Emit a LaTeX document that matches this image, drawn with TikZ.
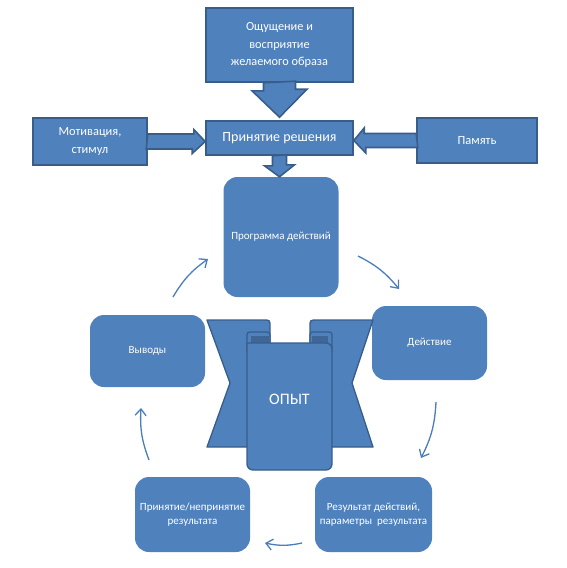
\documentclass[tikz,border=0pt]{standalone}
\usepackage{fontspec}
\setmainfont{Carlito}
\usetikzlibrary{arrows.meta,calc}

\definecolor{boxblue}{HTML}{4F81BD}
\definecolor{edgeblue}{HTML}{385D8A}
\definecolor{backblue}{HTML}{3E6797}
\definecolor{lineblue}{HTML}{4A7EBB}

\tikzset{
  blockbox/.style={draw=edgeblue, fill=boxblue, line width=1.6pt, text=white, align=center, inner sep=0pt},
  roundbox/.style={fill=boxblue, rounded corners=14pt, text=white, align=center, inner sep=0pt,
    minimum width=115pt, font=\fontsize{11}{14.5}\selectfont},
  blockarrow/.style={draw=edgeblue, fill=boxblue, line width=1.6pt, line join=miter},
  scrollpart/.style={draw=edgeblue, fill=boxblue, line width=1.3pt, line join=round},
  cyclearrow/.style={draw=lineblue, line width=1.3pt, -{Straight Barb[length=6.5pt,width=11pt]}, bend left=12}
}

\begin{document}
\begin{tikzpicture}[x=1pt, y=-1pt]
\useasboundingbox (0,0) rectangle (566,568);

\node[blockbox, minimum width=147pt, minimum height=74pt, font=\fontsize{12.3}{17.5}\selectfont] (sense) at (279.5,45) {Ощущение и\\восприятие\\желаемого образа};
\node[blockbox, minimum width=147pt, minimum height=34pt, font=\fontsize{14}{16}\selectfont] (decide) at (279.5,138) {Принятие решения};
\node[blockbox, minimum width=114pt, minimum height=47pt, font=\fontsize{12.4}{18}\selectfont] (motive) at (90,141.5) {Мотивация,\\стимул};
\node[blockbox, minimum width=120pt, minimum height=45pt, font=\fontsize{12.5}{14}\selectfont] (memory) at (477,140.5) {Память};

\draw[blockarrow] ($(sense.south)+(-16,0)$) -- ++(0,8) -- ++(-11.5,0) -- ($(decide.north)+(0,-3)$)
  -- ++(27.5,-28) -- ++(-11.5,0) -- ++(0,-8) -- cycle;
\draw[blockarrow] ($(motive.east)+(0,-7.5)$) -- ++(46,0) -- ++(0,-4.5) -- (decide.west |- motive.east)
  -- ++(-13,12) -- ++(0,-4.5) -- ++(-46,0) -- cycle;
\draw[blockarrow] ($(memory.west)+(0,-7)$) -- ++(-52,0) -- ++(0,-5.5) -- (decide.east |- memory.west)
  -- ++(12,12.5) -- ++(0,-5.5) -- ++(52,0) -- cycle;

\node[roundbox, minimum height=120pt] (prog) at (281,237) {Программа действий};
\node[roundbox, minimum height=74pt] (act) at (429.5,343) {Действие};
\node[roundbox, minimum height=72pt] (concl) at (147.5,351) {Выводы};
\node[roundbox, minimum width=117pt, minimum height=75pt] (result) at (373.5,514.5) {Результат действий,\\параметры\ \ результата};
\node[roundbox, minimum height=75pt] (accept) at (192.5,514.5) {Принятие/непринятие\\результата};

\draw[blockarrow] ($(decide.south)+(-7,0)$) -- ++(0,10) -- ++(-8,0) -- (decide.south |- prog.north)
  -- ++(15,-12) -- ++(-8,0) -- ++(0,-10) -- cycle;

% scroll
\draw[scrollpart] (207,320) -- (263,320) .. controls (270,320) .. (270,327) -- (270,447) -- (207,447) -- (230,383) -- cycle;
\draw[scrollpart] (373,320) -- (317,320) .. controls (310,320) .. (310,327) -- (310,447) -- (373,447) -- (352,383) -- cycle;
\draw[scrollpart] (247,352) -- (247,338) .. controls (247,332) .. (253,332) -- (264,332) .. controls (270,332) .. (270,338) -- (270,352);
\draw[scrollpart] (310,352) -- (310,338) .. controls (310,332) .. (316,332) -- (326,332) .. controls (332,332) .. (332,338) -- (332,352);
\fill[backblue] (251,336) rectangle (268.5,343);
\fill[backblue] (311.5,336) rectangle (328,343);
\draw[scrollpart, rounded corners=6] (247,343) -- (247,470) -- (332,470) -- (332,343) [sharp corners] -- cycle;
\node[text=white, font=\fontsize{16}{18}\selectfont] (exp) at (289.5,399) {ОПЫТ};

\coordinate (c1s) at (173,297); \coordinate (c1e) at (208,259);
\coordinate (c2s) at (358,256); \coordinate (c2e) at (399,289);
\coordinate (c3s) at (436,402); \coordinate (c3e) at (421,458);
\coordinate (c4s) at (302,543); \coordinate (c4e) at (265,543);
\coordinate (c5s) at (149,460); \coordinate (c5e) at (141,408);
\draw[cyclearrow] (c1s) to (c1e);
\draw[cyclearrow] (c2s) to (c2e);
\draw[cyclearrow] (c3s) to (c3e);
\draw[cyclearrow] (c4s) to (c4e);
\draw[cyclearrow] (c5s) to (c5e);
\end{tikzpicture}
\end{document}
